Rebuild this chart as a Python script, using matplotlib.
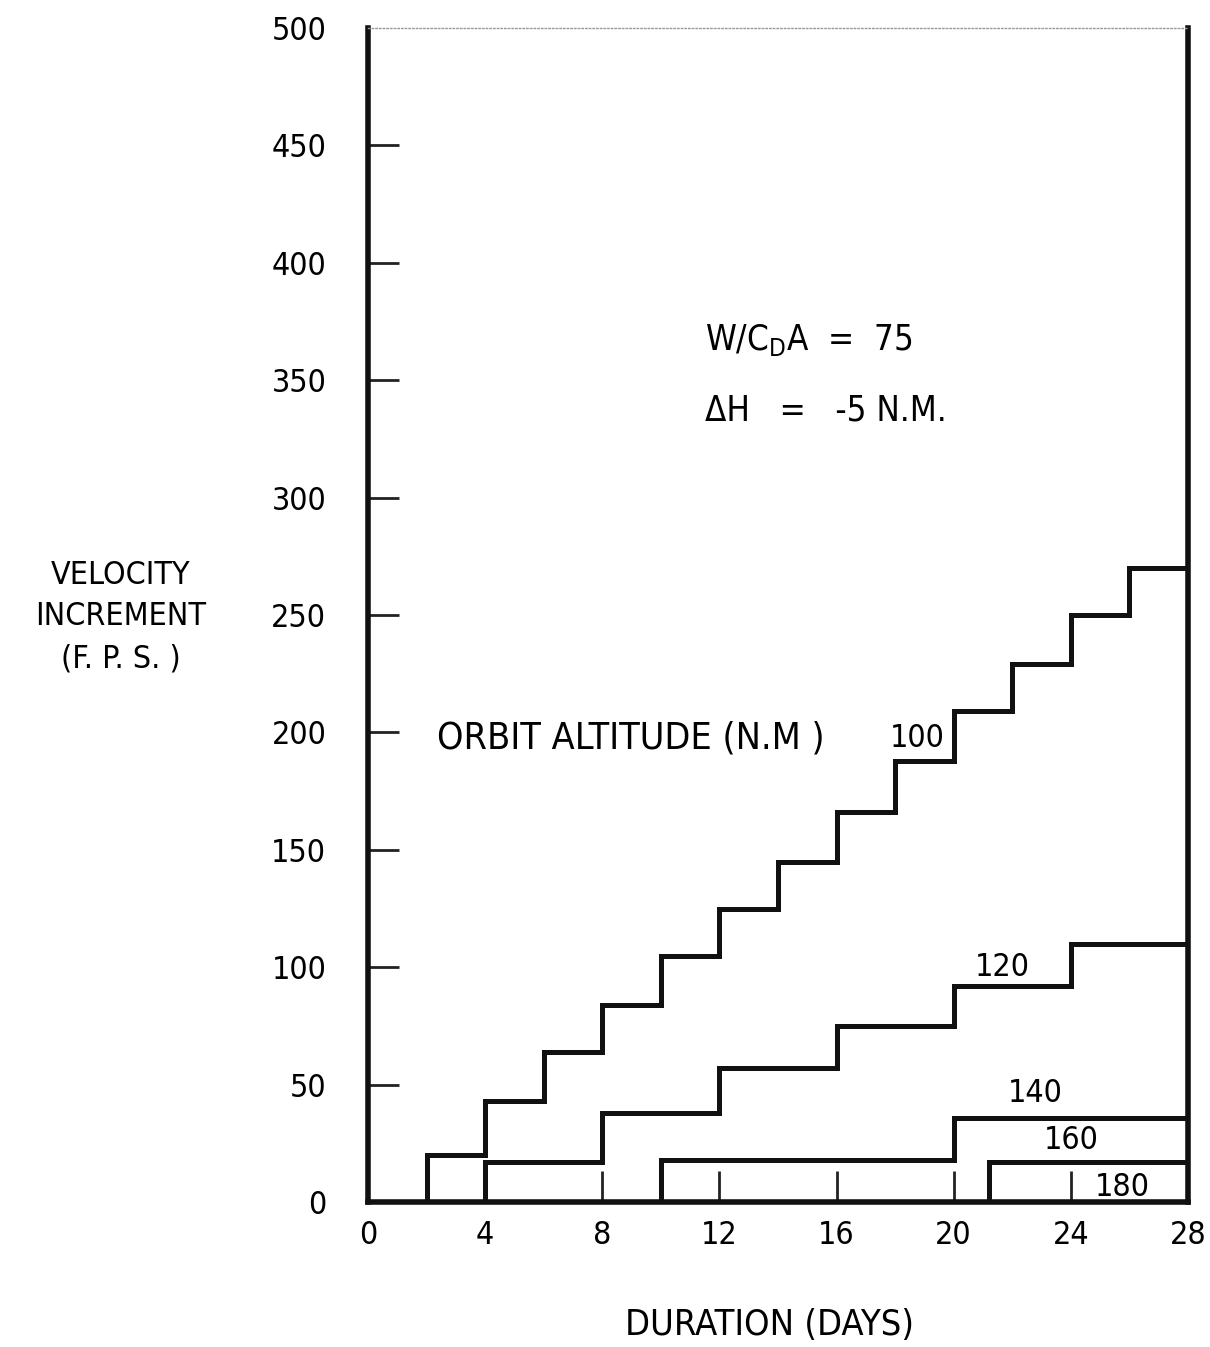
import numpy as np
import matplotlib.pyplot as plt

plt.rcParams.update({
    "font.family": ["DejaVu Sans"],
    "font.stretch": "condensed",
    "mathtext.fontset": "dejavusans",
})

# step breakpoints (days) and velocity increments (f.p.s.) per orbit altitude
days_100 = [0, 2, 4, 6, 8, 10, 12, 14, 16, 18, 20, 22, 24, 26, 28]
dv_100 = [0, 20, 43, 64, 84, 105, 125, 145, 166, 188, 209, 229, 250, 270]
days_120 = [0, 4, 8, 12, 16, 20, 24, 28]
dv_120 = [0, 17, 38, 57, 75, 92, 110]
days_140 = [0, 10, 20, 28]
dv_140 = [0, 18, 36]
days_160 = [0, 21.2, 28]
dv_160 = [0, 17]
days_180 = [0, 28]
dv_180 = [0]

series = [
    (days_100, dv_100),
    (days_120, dv_120),
    (days_140, dv_140),
    (days_160, dv_160),
    (days_180, dv_180),
]

fig = plt.figure(figsize=(12.1, 13.47), dpi=100)
ax = fig.add_axes([0.3041, 0.1076, 0.6777, 0.8716])

for d, v in series:
    ax.step(d, v + [v[-1]], where="post", color="#111111", linewidth=3.6,
            solid_joinstyle="miter")

ax.set_xlim(0, 28)
ax.set_ylim(0, 500)
ax.set_xticks(np.arange(0, 29, 4))
ax.set_yticks(np.arange(0, 501, 50))
ax.tick_params(axis="both", direction="in", length=22, width=2, color="#222222",
               labelsize=23)
ax.tick_params(axis="y", pad=30)
ax.tick_params(axis="x", pad=13)
# no inner tick mark at the top of the scale
ax.yaxis.get_major_ticks()[-1].tick1line.set_visible(False)

for side in ["left", "right", "bottom"]:
    ax.spines[side].set_linewidth(4)
    ax.spines[side].set_color("#111111")
ax.spines["top"].set_linewidth(1)
ax.spines["top"].set_color("#999999")
ax.spines["top"].set_linestyle(":")

# annotations
ax.text(11.5, 367, r"W/C$_{\mathrm{D}}$A  =  75", fontsize=25, va="center")
ax.text(11.5, 337, "\u0394H   =   -5 N.M.", fontsize=25, va="center")
ax.text(2.35, 197.6, "ORBIT ALTITUDE (N.M )", fontsize=27, va="center")
ax.text(18.75, 197.6, "100", fontsize=23, ha="center", va="center")
ax.text(21.65, 99.7, "120", fontsize=23, ha="center", va="center")
ax.text(22.8, 46.4, "140", fontsize=23, ha="center", va="center")
ax.text(24.0, 26.4, "160", fontsize=23, ha="center", va="center")
ax.text(25.75, 6, "180", fontsize=23, ha="center", va="center")

fig.text(0.1, 0.542, "VELOCITY\nINCREMENT\n(F. P. S. )", fontsize=23,
         ha="center", va="center", linespacing=1.45)
fig.text(0.636, 0.016, "DURATION (DAYS)", fontsize=26, ha="center", va="center")

fig.savefig("out.png", dpi=100, facecolor="white")
